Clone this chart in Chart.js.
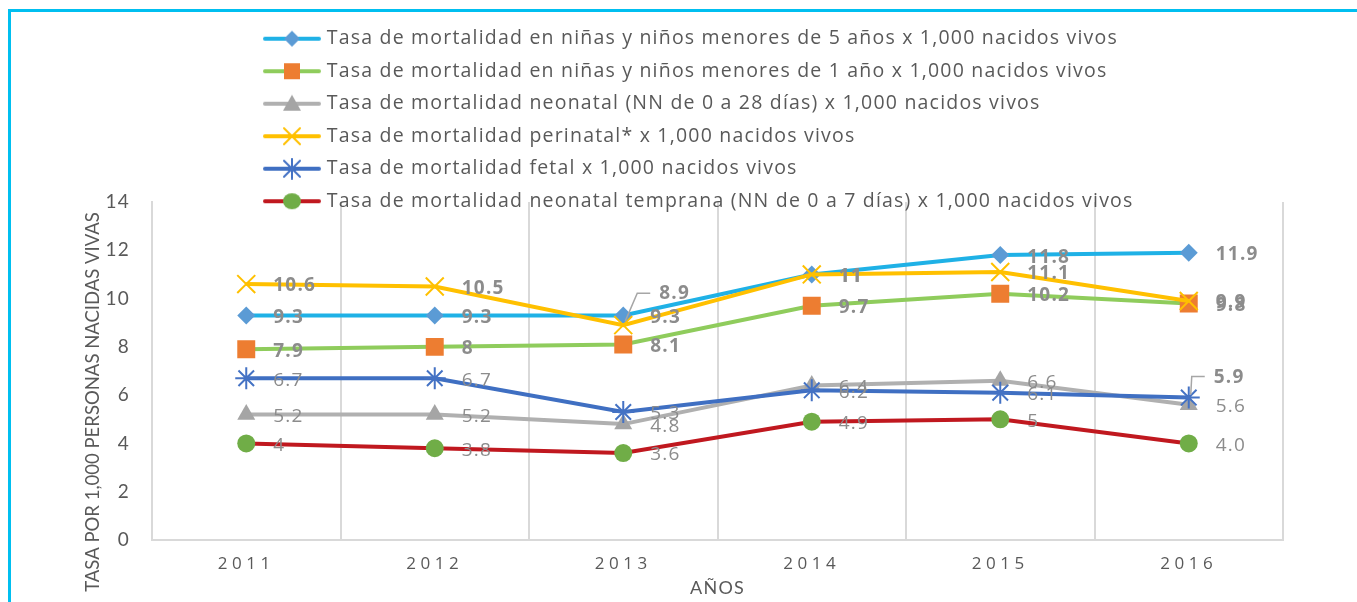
<!DOCTYPE html>
<html>
<head>
<meta charset="utf-8">
<script src="https://cdn.jsdelivr.net/npm/chart.js@4.4.1/dist/chart.umd.min.js"></script>
<style>
body { margin: 0; background: #fff; }
.wrap { position: relative; width: 1357px; height: 602px; overflow: hidden; }
.frame { position: absolute; left: 8px; top: 9px; right: -5px; bottom: -5px; border-top: 3px solid #00bff0; border-left: 3px solid #00bff0; pointer-events: none; }
</style>
</head>
<body>
<div class="wrap">
<canvas id="chart1" width="1357" height="602"></canvas>
<div class="frame"></div>
</div>
<script>
// datos
var years = ['2011', '2012', '2013', '2014', '2015', '2016'];
var yTicks = [0, 2, 4, 6, 8, 10, 12, 14];

var menores5 = [9.3, 9.3, 9.3, 11, 11.8, 11.9];
var menores1 = [7.9, 8, 8.1, 9.7, 10.2, 9.8];
var neonatal = [5.2, 5.2, 4.8, 6.4, 6.6, 5.6];
var perinatal = [10.6, 10.5, 8.9, 11, 11.1, 9.9];
var fetal = [6.7, 6.7, 5.3, 6.2, 6.1, 5.9];
var neonatalTemprana = [4, 3.8, 3.6, 4.9, 5, 4.0];
var neonatalTempranaTexts = ['4', '3.8', '3.6', '4.9', '5', '4.0'];

var names = [
    'Tasa de mortalidad en niñas y niños menores de 5 años x 1,000 nacidos vivos',
    'Tasa de mortalidad en niñas y niños menores de 1 año x 1,000 nacidos vivos',
    'Tasa de mortalidad neonatal (NN de 0 a 28 días) x 1,000 nacidos vivos',
    'Tasa de mortalidad perinatal* x 1,000 nacidos vivos',
    'Tasa de mortalidad fetal x 1,000 nacidos vivos',
    'Tasa de mortalidad neonatal temprana (NN de 0 a 7 días) x 1,000 nacidos vivos'
];

var FONT = '"Open Sans", sans-serif';
var NARROW = 'Lato, sans-serif';
var GREY_TEXT = '#595959';
var LABEL_GREY = '#8c8c8c';

// icono de leyenda: linea + marcador
function makeIcon(lineColor, markColor, shape) {
    var c = document.createElement('canvas');
    c.width = 58; c.height = 22;
    var g = c.getContext('2d');
    g.strokeStyle = lineColor; g.lineWidth = 4; g.lineCap = 'round';
    g.beginPath(); g.moveTo(2, 11); g.lineTo(56, 11); g.stroke();
    g.fillStyle = markColor; g.strokeStyle = markColor; g.lineWidth = 2;
    var x = 29, y = 11;
    g.beginPath();
    if (shape == 'diamond') {
        g.moveTo(x, y - 8); g.lineTo(x + 8, y); g.lineTo(x, y + 8); g.lineTo(x - 8, y); g.closePath(); g.fill();
    } else if (shape == 'square') {
        g.fillRect(x - 8, y - 8, 16, 16);
    } else if (shape == 'triangle') {
        g.moveTo(x, y - 9); g.lineTo(x + 9, y + 7); g.lineTo(x - 9, y + 7); g.closePath(); g.fill();
    } else if (shape == 'x') {
        g.moveTo(x - 8, y - 8); g.lineTo(x + 8, y + 8); g.moveTo(x + 8, y - 8); g.lineTo(x - 8, y + 8); g.stroke();
    } else if (shape == 'star') {
        g.moveTo(x - 8, y - 8); g.lineTo(x + 8, y + 8); g.moveTo(x + 8, y - 8); g.lineTo(x - 8, y + 8);
        g.moveTo(x, y - 10); g.lineTo(x, y + 10); g.stroke();
    } else {
        g.ellipse(x, y, 9, 8, 0, 0, Math.PI * 2); g.fill();
    }
    return c;
}

var icons = [
    makeIcon('#1fb1e6', '#5b9bd5', 'diamond'),
    makeIcon('#8fcc5c', '#ed7d31', 'square'),
    makeIcon('#b0b0b0', '#a5a5a5', 'triangle'),
    makeIcon('#ffc000', '#ffc000', 'x'),
    makeIcon('#3f6fc2', '#4472c4', 'star'),
    makeIcon('#c0181f', '#70ad47', 'circle')
];

// etiquetas de datos
var callouts = {
    '3-2': { dx: 36, dy: -32, leader: [[2, -4], [14, -32], [27, -32]] },
    '4-5': { dx: 25, dy: -20, leader: [[2, -3], [3, -21], [16, -21]] }
};

var labelPlugin = {
    id: 'valueLabels',
    afterDatasetsDraw: function(chart) {
        var ctx = chart.ctx;
        ctx.save();
        ctx.textAlign = 'left';
        ctx.textBaseline = 'middle';
        chart.data.datasets.forEach(function(ds, i) {
            var meta = chart.getDatasetMeta(i);
            meta.data.forEach(function(pt, j) {
                var text = ds.labelTexts ? ds.labelTexts[j] : String(ds.data[j]);
                var c = callouts[i + '-' + j];
                var bold = ds.labelBold || !!c;
                ctx.font = (bold ? 'bold ' : '') + '19px ' + FONT;
                ctx.fillStyle = LABEL_GREY;
                if (c) {
                    ctx.strokeStyle = '#a6a6a6';
                    ctx.lineWidth = 1.5;
                    ctx.beginPath();
                    ctx.moveTo(pt.x + c.leader[0][0], pt.y + c.leader[0][1]);
                    ctx.lineTo(pt.x + c.leader[1][0], pt.y + c.leader[1][1]);
                    ctx.lineTo(pt.x + c.leader[2][0], pt.y + c.leader[2][1]);
                    ctx.stroke();
                    ctx.fillText(text, pt.x + c.dx, pt.y + c.dy);
                } else {
                    ctx.fillText(text, pt.x + 27, pt.y + 2);
                }
            });
        });
        ctx.restore();
    }
};

// ajustes de leyenda, espaciado y ejes
var layoutPlugin = {
    id: 'layoutTweaks',
    afterInit: function(chart) {
        var lg = chart.legend;
        var fit = lg.fit;
        lg.fit = function() {
            this.maxWidth = 920;
            fit.call(this);
            this.height = 186;
        };
    },
    beforeUpdate: function(chart) {
        chart.ctx.letterSpacing = '1.2px';
    },
    beforeDraw: function(chart) {
        chart.ctx.letterSpacing = '1.2px';
    },
    afterLayout: function(chart) {
        chart.legend.left = 254;
        chart.legend.right = 1180;
        chart.legend.bottom = 240;
        var xs = chart.scales.x;
        if (!xs._spaced) {
            xs._spaced = true;
            var dl = xs.drawLabels;
            xs.drawLabels = function(area) {
                this.ctx.save();
                this.ctx.letterSpacing = '4.5px';
                dl.call(this, area);
                this.ctx.restore();
            };
        }
        var ys = chart.scales.y;
        if (!ys._moved) {
            ys._moved = true;
            var dt = ys.drawTitle;
            ys.drawTitle = function() {
                this.ctx.save();
                this.ctx.letterSpacing = '0px';
                this.ctx.translate(0, 31);
                dt.call(this);
                this.ctx.restore();
            };
        }
    }
};

function serie(i, values, line, mark, style, radius, bold) {
    return {
        label: names[i],
        data: values,
        borderColor: line,
        backgroundColor: line,
        borderWidth: 4,
        pointStyle: style,
        pointRadius: radius,
        pointHoverRadius: radius,
        pointBackgroundColor: mark,
        pointBorderColor: mark,
        pointBorderWidth: (style == 'crossRot' || style == 'star') ? 2 : 0,
        tension: 0,
        order: 6 - i,
        labelBold: bold
    };
}

var ds6 = serie(5, neonatalTemprana, '#c0181f', '#70ad47', 'circle', 9, false);
ds6.labelTexts = neonatalTempranaTexts;

var ctx1 = document.getElementById('chart1');
var chart1 = new Chart(ctx1, {
    type: 'line',
    data: {
        labels: years,
        datasets: [
            serie(0, menores5, '#1fb1e6', '#5b9bd5', 'rectRot', 9, true),
            serie(1, menores1, '#8fcc5c', '#ed7d31', 'rect', 12.7, true),
            serie(2, neonatal, '#b0b0b0', '#a5a5a5', 'triangle', 10.4, false),
            serie(3, perinatal, '#ffc000', '#ffc000', 'crossRot', 12.7, true),
            serie(4, fetal, '#3f6fc2', '#4472c4', 'star', 11, false),
            ds6
        ]
    },
    plugins: [layoutPlugin, labelPlugin],
    options: {
        responsive: false,
        animation: false,
        devicePixelRatio: 1,
        layout: { padding: { top: 16, left: 10, right: 74, bottom: 0 } },
        plugins: {
            tooltip: { enabled: false },
            legend: {
                position: 'top',
                align: 'start',
                labels: {
                    usePointStyle: true,
                    pointStyleWidth: 50,
                    padding: 13,
                    color: GREY_TEXT,
                    font: { size: 19.5, family: FONT },
                    generateLabels: function(chart) {
                        return chart.data.datasets.map(function(ds, i) {
                            return {
                                text: ds.label,
                                fillStyle: ds.borderColor,
                                strokeStyle: ds.borderColor,
                                lineWidth: 0,
                                pointStyle: icons[i],
                                fontColor: GREY_TEXT,
                                hidden: false,
                                datasetIndex: i
                            };
                        });
                    }
                }
            }
        },
        scales: {
            x: {
                offset: true,
                afterFit: function(s) { s.height = 62; },
                grid: { offset: true, color: '#d9d9d9', lineWidth: 2, drawTicks: false },
                border: { color: '#d9d9d9', width: 2 },
                ticks: { color: GREY_TEXT, padding: 14, font: { size: 17, family: FONT } },
                title: { display: true, text: 'AÑOS', color: GREY_TEXT, font: { size: 18, family: NARROW }, padding: { top: 0, bottom: 3 } }
            },
            y: {
                min: 0,
                max: 14,
                afterFit: function(s) { s.width = 142; },
                afterBuildTicks: function(s) { s.ticks = yTicks.map(function(v) { return { value: v }; }); },
                grid: { display: false, drawTicks: false },
                border: { display: true, color: '#d9d9d9', width: 2 },
                ticks: { color: GREY_TEXT, padding: 22, font: { size: 19, family: NARROW } },
                title: { display: true, text: 'TASA POR 1,000 PERSONAS NACIDAS VIVAS', color: GREY_TEXT, font: { size: 18.5, family: NARROW }, padding: { top: 72, bottom: 0 } }
            }
        }
    }
});
</script>
</body>
</html>
